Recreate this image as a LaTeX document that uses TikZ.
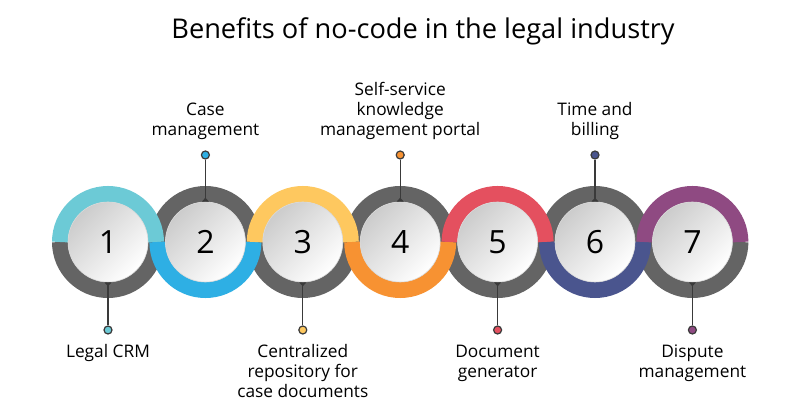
\documentclass[tikz,border=0pt]{standalone}
\usepackage{fontspec}
\setmainfont{Open Sans}
\usepackage{xcolor}
\usetikzlibrary{arrows.meta, positioning}

\definecolor{ringgray}{HTML}{646464}
\definecolor{wiregray}{HTML}{3A3A3A}
\definecolor{tealring}{HTML}{6CCAD6}
\definecolor{bluering}{HTML}{2EAFE4}
\definecolor{yellowring}{HTML}{FEC85F}
\definecolor{orangering}{HTML}{F79232}
\definecolor{redring}{HTML}{E4505F}
\definecolor{navyring}{HTML}{4A558E}
\definecolor{purplering}{HTML}{8F4A82}

\begin{document}
\begin{tikzpicture}[
    x=1pt, y=1pt,
    half/.style={line width=16pt},
    face/.style={circle, minimum size=80pt, inner sep=0pt, draw=black!15, line width=0.6pt,
                 top color=black!20, middle color=black!4, bottom color=white, shading angle=45,
                 font=\fontsize{32}{32}\selectfont},
    dot/.style={circle, minimum size=8pt, inner sep=0pt, draw=wiregray, line width=1.2pt},
    wire/.style={-{Triangle[reversed, length=4pt, width=7pt]}, draw=wiregray, line width=1.2pt},
    note/.style={align=center, inner sep=0pt, font=\fontsize{17.3}{20}\selectfont, text=black}
]
\useasboundingbox (0,0) rectangle (800,420);
\fill[white] (0,0) rectangle (800,420);

\node[font=\fontsize{27.2}{30}\selectfont] (title) at (423,389) {Benefits of no-code in the legal industry};

% ring centres
\coordinate (c1) at (108,178);
\coordinate (c2) at (205.4,178);
\coordinate (c3) at (302.8,178);
\coordinate (c4) at (400.2,178);
\coordinate (c5) at (497.6,178);
\coordinate (c6) at (595,178);
\coordinate (c7) at (692.4,178);

% grey halves go underneath
\draw[half, ringgray] (c1) ++(48,0) arc (0:-180:48);
\draw[half, ringgray] (c2) ++(48,0) arc (0:180:48);
\draw[half, ringgray] (c3) ++(48,0) arc (0:-180:48);
\draw[half, ringgray] (c4) ++(48,0) arc (0:180:48);
\draw[half, ringgray] (c5) ++(48,0) arc (0:-180:48);
\draw[half, ringgray] (c6) ++(48,0) arc (0:180:48);
\draw[half, ringgray] (c7) ++(48,0) arc (0:-180:48);

% coloured halves on top
\draw[half, tealring] (c1) ++(48,0) arc (0:180:48);
\draw[half, bluering] (c2) ++(48,0) arc (0:-180:48);
\draw[half, yellowring] (c3) ++(48,0) arc (0:180:48);
\draw[half, orangering] (c4) ++(48,0) arc (0:-180:48);
\draw[half, redring] (c5) ++(48,0) arc (0:180:48);
\draw[half, navyring] (c6) ++(48,0) arc (0:-180:48);
\draw[half, purplering] (c7) ++(48,0) arc (0:180:48);

\node[face] (n1) at (c1) {1};
\node[face] (n2) at (c2) {2};
\node[face] (n3) at (c3) {3};
\node[face] (n4) at (c4) {4};
\node[face] (n5) at (c5) {5};
\node[face] (n6) at (c6) {6};
\node[face] (n7) at (c7) {7};

\node[dot, fill=tealring] (d1) at (108,90) {};
\node[dot, fill=bluering] (d2) at (205.4,265) {};
\node[dot, fill=yellowring] (d3) at (302.8,90) {};
\node[dot, fill=orangering] (d4) at (400.2,265) {};
\node[dot, fill=redring] (d5) at (497.6,90) {};
\node[dot, fill=navyring] (d6) at (595,265) {};
\node[dot, fill=purplering] (d7) at (692.4,90) {};

\draw[wire] (d1) -- (n1);
\draw[wire] (d2) -- (n2);
\draw[wire] (d3) -- (n3);
\draw[wire] (d4) -- (n4);
\draw[wire] (d5) -- (n5);
\draw[wire] (d6) -- (n6);
\draw[wire] (d7) -- (n7);

\node[note, below=10pt of d1] (l1) {Legal CRM};
\node[note, above=11pt of d2] (l2) {Case\\management};
\node[note, below=10pt of d3] (l3) {Centralized\\repository for\\case documents};
\node[note, above=11pt of d4] (l4) {Self-service\\knowledge\\management portal};
\node[note, below=10pt of d5] (l5) {Document\\generator};
\node[note, above=11pt of d6] (l6) {Time and\\billing};
\node[note, below=10pt of d7] (l7) {Dispute\\management};
\end{tikzpicture}
\end{document}
